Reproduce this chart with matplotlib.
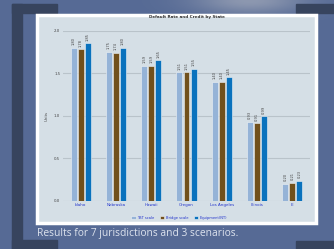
import numpy as np
import matplotlib
matplotlib.use("Agg")
import matplotlib.pyplot as plt
from matplotlib.patches import Rectangle

# chart data
states = ["Idaho", "Nebraska", "Hawaii", "Oregon", "Los Angeles", "Illinois", "IE"]
scenario_names = ["TBT scale", "Bridge scale", "Equipment(NT)"]
tbt = [1.80, 1.75, 1.59, 1.51, 1.40, 0.93, 0.20]
bridge = [1.78, 1.74, 1.59, 1.51, 1.40, 0.91, 0.21]
equip = [1.85, 1.80, 1.65, 1.55, 1.45, 0.99, 0.23]
yticks = [0, 0.5, 1.0, 1.5, 2.0]

bar_colors = ["#95b3d7", "#71501c", "#0a72bd"]
bg = "#566a95"
dark = "#37445e"

W, H = 334, 249
fig = plt.figure(figsize=(W / 100, H / 100), dpi=100, facecolor=bg)

# slide background drawn in pixel coordinates
back = fig.add_axes([0, 0, 1, 1])
back.set_xlim(0, W)
back.set_ylim(H, 0)
back.axis("off")

# soft light glow at the top
gx, gy = np.meshgrid(np.linspace(0, W, 200), np.linspace(0, 40, 40))
glow = np.exp(-((gx - 250) ** 2) / (2 * 40 ** 2) - (gy ** 2) / (2 * 10 ** 2))
rgba = np.zeros(glow.shape + (4,))
rgba[..., :3] = 0.82
rgba[..., 3] = glow * 0.45
back.imshow(rgba, extent=(0, W, 40, 0), aspect="auto", zorder=0)

# dark frame pieces
for x0, y0, w, h in [(12, 4, 45, 9), (12, 4, 10, 245), (12, 240, 45, 9),
                     (296, 4, 38, 9), (296, 241, 38, 8)]:
    back.add_patch(Rectangle((x0, y0), w, h, color=dark, zorder=1))

# chart panel
back.add_patch(Rectangle((37, 15), 279, 208, facecolor="#d5dfe6",
                         edgecolor="white", linewidth=2.5, zorder=2))

back.text(37, 233, "Results for 7 jurisdictions and 3 scenarios.",
          color="#dde3ee", fontsize=7.4, family="Open Sans",
          va="center", ha="left", zorder=3)

# the chart itself
ax = fig.add_axes([63 / W, (H - 200.5) / H, 247 / W, (200.5 - 30.7) / H])
ax.set_facecolor("none")
x = np.arange(len(states))
step = 0.2
for i, (vals, c) in enumerate(zip([tbt, bridge, equip], bar_colors)):
    pos = x + (i - 1) * step
    ax.bar(pos, vals, width=0.17, color=c, edgecolor="#eef2f5",
           linewidth=0.4, label=scenario_names[i], zorder=3)
    for xb, v in zip(pos, vals):
        ax.text(xb, v + 0.03, f"{v:.2f}", rotation=90, fontsize=2.6,
                color="#444444", ha="center", va="bottom", clip_on=False)

ax.set_xlim(-0.5, 6.5)
ax.set_ylim(0, 2.0)
ax.set_yticks(yticks)
ax.set_yticklabels([f"{t:.1f}" for t in yticks], fontsize=2.8, color="#444444")
ax.set_xticks(x)
ax.set_xticklabels(states, fontsize=2.9, color="#2233cc")
ax.tick_params(length=0, pad=2)
ax.grid(axis="y", color="#b9c3ca", linewidth=0.8, zorder=0)
for s in ax.spines.values():
    s.set_visible(False)
ax.set_ylabel("Units", fontsize=2.8, color="#444444", labelpad=4)
ax.set_title("Default Rate and Credit by State", fontsize=3.0,
             fontweight="bold", color="#333333", pad=9)
ax.legend(loc="upper center", bbox_to_anchor=(0.47, -0.07), ncol=3,
          fontsize=2.6, frameon=False, handlelength=1.2, handleheight=1.2,
          columnspacing=1.5, handletextpad=0.4, labelcolor="#2233cc")

fig.savefig("out.png", dpi=100, facecolor=bg)
